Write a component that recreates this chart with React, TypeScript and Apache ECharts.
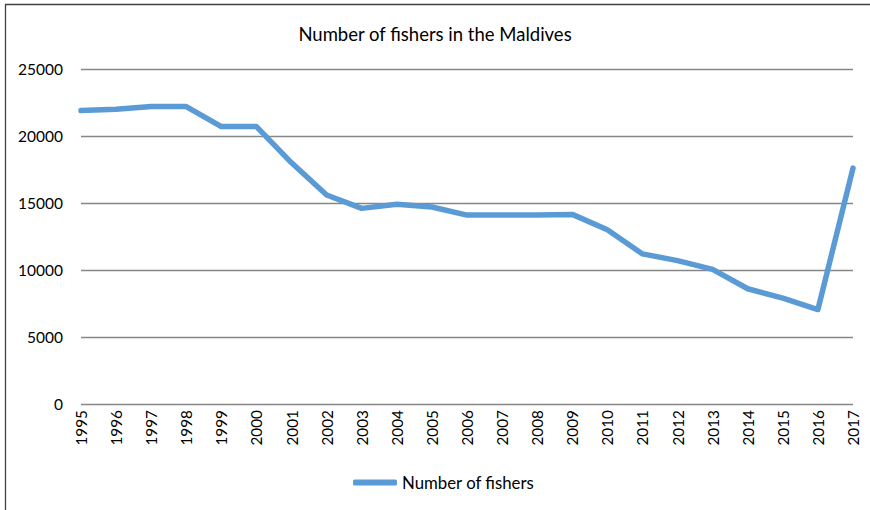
import React, { useEffect, useRef } from "react";
import * as echarts from "echarts";

const years = ["1995","1996","1997","1998","1999","2000","2001","2002","2003","2004","2005","2006","2007","2008","2009","2010","2011","2012","2013","2014","2015","2016","2017"];
const fishers = [21900,22000,22200,22200,20700,20700,18000,15600,14600,14900,14700,14100,14100,14100,14150,13000,11200,10700,10050,8600,7900,7050,17600];
const seriesName = "Number of fishers";
const titleText = "Number of fishers in the Maldives";

const FONT = "Lato";

export default function App() {
  const ref = useRef<HTMLDivElement>(null);
  useEffect(() => {
    if (!ref.current) return;
    const chart = echarts.init(ref.current, undefined, { renderer: "svg" });
    chart.setOption({
      animation: false,
      backgroundColor: "#ffffff",
      textStyle: { fontFamily: FONT },
      title: {
        text: titleText,
        left: "center",
        top: 19,
        textStyle: { fontFamily: FONT, fontSize: 18.5, fontWeight: "normal", color: "#000000" },
      },
      legend: {
        data: [{ name: seriesName, icon: "roundRect" }],
        left: 348,
        top: 469,
        itemWidth: 44,
        itemHeight: 6,
        itemGap: 6,
        textStyle: { fontFamily: FONT, fontSize: 16.8, color: "#000000", padding: [0, 0, 0, 0] },
      },
      grid: { left: 81, right: 17, top: 69, bottom: 106, containLabel: false },
      xAxis: {
        type: "category",
        data: years,
        boundaryGap: false,
        axisLine: { show: false },
        axisTick: { show: false },
        axisLabel: { rotate: 90, margin: 6, fontFamily: FONT, fontSize: 15.3, color: "#000000", interval: 0 },
      },
      yAxis: {
        type: "value",
        min: 0,
        max: 25000,
        interval: 5000,
        axisLine: { show: false },
        axisTick: { show: false },
        axisLabel: { margin: 18, fontFamily: FONT, fontSize: 15.5, color: "#000000", formatter: (v: number) => String(v) },
        splitLine: { lineStyle: { color: "#868686", width: 1.3 } },
      },
      series: [
        {
          name: seriesName,
          type: "line",
          data: fishers,
          symbol: "none",
          lineStyle: { color: "#5B9BD5", width: 5.5, cap: "round", join: "round" },
          itemStyle: { color: "#5B9BD5" },
        },
      ],
      graphic: [
        { type: "line", shape: { x1: 5, y1: 4.5, x2: 870, y2: 4.5 }, style: { stroke: "#404040", lineWidth: 1.3 } },
        { type: "line", shape: { x1: 5.5, y1: 4, x2: 5.5, y2: 510 }, style: { stroke: "#404040", lineWidth: 1.3 } },
      ],
    });
    return () => chart.dispose();
  }, []);
  return <div ref={ref} style={{ position: "fixed", left: 0, top: 0, width: 870, height: 510 }} />;
}
